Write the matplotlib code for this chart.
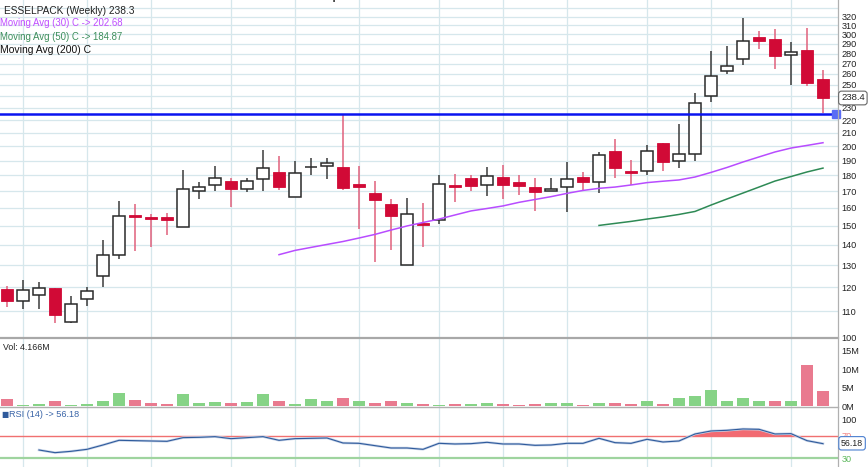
import numpy as np
import matplotlib
matplotlib.use("Agg")
import matplotlib.pyplot as plt
from matplotlib.lines import Line2D

plt.rcParams['font.family'] = ['Liberation Sans', 'DejaVu Sans']

# ---------------- data ----------------
opens = [119.3, 114.3, 116.9, 119.7, 105.9, 114.9, 124.9, 135.1, 156.2, 154.8, 154.8, 149.2, 170.3,
         173.7, 176.4, 171.2, 177.5, 182.5, 166.3, 185.4, 186.3, 185.8, 174.5, 168.9, 162.3, 130.1,
         151.7, 153.0, 173.7, 178.4, 173.7, 179.0, 176.0, 172.4, 170.0, 172.6, 179.0, 176.0, 196.7,
         182.9, 182.9, 202.5, 189.5, 194.6, 239.8, 262.8, 274.5, 297.0, 295.4, 278.2, 283.9, 255.6]
highs = [120.6, 123.3, 122.2, 119.7, 116.3, 120.3, 142.5, 164.1, 162.3, 156.4, 156.9, 183.6, 176.0,
         186.1, 178.2, 178.2, 197.2, 193.4, 189.7, 191.8, 191.6, 225.3, 186.1, 176.4, 165.3, 166.1,
         162.7, 180.1, 181.0, 180.5, 185.6, 187.0, 180.3, 178.2, 178.2, 189.2, 182.5, 196.0, 205.4,
         190.4, 201.0, 202.5, 217.2, 242.7, 282.6, 288.1, 318.1, 303.8, 306.0, 291.6, 307.1, 263.5]
lows = [111.9, 110.8, 111.1, 105.4, 105.5, 112.2, 120.3, 132.9, 136.9, 139.1, 145.1, 149.2, 165.3,
        170.3, 160.4, 169.7, 170.3, 171.0, 166.3, 180.3, 177.7, 170.8, 148.1, 131.7, 137.3, 130.1,
        139.1, 150.8, 163.7, 170.3, 167.3, 165.3, 167.7, 158.3, 170.0, 157.9, 170.8, 169.1, 178.6,
        173.9, 180.3, 183.1, 184.9, 189.9, 234.7, 259.7, 268.3, 284.3, 264.5, 250.1, 249.3, 225.7]
closes = [114.1, 118.9, 119.6, 108.6, 112.9, 118.3, 135.1, 155.3, 154.7, 153.6, 153.0, 171.2, 172.4,
          178.4, 171.2, 176.4, 184.7, 172.4, 181.4, 185.6, 188.1, 172.3, 172.6, 164.9, 155.6, 156.4,
          150.3, 174.3, 172.4, 173.3, 179.9, 174.1, 173.5, 169.5, 171.4, 177.5, 176.0, 194.1, 184.9,
          181.6, 196.7, 189.2, 194.7, 233.8, 257.8, 267.6, 292.7, 292.7, 277.8, 281.2, 251.6, 238.3]
volume_m = [1.9, 0.27, 0.54, 1.26, 0.27, 0.54, 1.44, 3.42, 1.62, 0.81, 0.54, 3.15, 0.81, 1.08, 0.81,
            1.08, 3.15, 1.26, 0.54, 1.9, 1.26, 2.16, 1.35, 0.81, 1.26, 0.81, 0.54, 0.27, 0.54, 0.54,
            0.81, 0.54, 0.27, 0.54, 0.81, 0.81, 0.27, 0.81, 0.81, 0.54, 1.26, 0.54, 2.07, 2.7, 4.3,
            1.35, 2.07, 1.26, 1.35, 1.26, 11.2, 4.166]
ma30_start = 17
ma30 = [135.1, 137.2, 138.7, 140.2, 141.7, 143.5, 145.4, 147.7, 149.9, 151.8, 153.7, 156.0, 158.3,
        159.7, 161.2, 163.3, 165.0, 166.7, 168.7, 170.5, 171.8, 172.6, 173.9, 175.4, 176.3, 177.1,
        179.0, 182.0, 185.3, 189.0, 192.5, 196.0, 198.8, 200.7, 202.68]
ma50_start = 37
ma50 = [150.2, 151.3, 152.4, 153.7, 154.9, 156.3, 158.0, 161.7, 165.3, 168.9, 172.6, 176.4, 179.3,
        182.3, 184.87]
rsi_start = 2
rsi = [44.8, 40.0, 42.4, 46.0, 53.8, 62.2, 61.6, 61.0, 60.4, 67.0, 67.6, 68.8, 65.2, 67.0, 68.8,
       62.2, 65.2, 65.8, 66.4, 57.4, 56.8, 52.6, 48.4, 48.4, 46.0, 56.8, 55.6, 56.2, 58.6, 55.6,
       55.6, 53.2, 53.8, 56.8, 56.8, 65.8, 58.0, 56.8, 64.0, 59.2, 61.0, 73.6, 79.0, 80.2, 82.6,
       82.0, 73.6, 74.2, 61.6, 56.18]
support_level = 225.0
price_ticks = [100, 110, 120, 130, 140, 150, 160, 170, 180, 190, 200, 210, 220, 230,
               250, 260, 270, 280, 290, 300, 310, 320]
vol_ticks = [0, 5, 10, 15]
vol_tick_labels = ["0M", "5M", "10M", "15M"]
month_idx = [1, 5, 9, 14, 18, 22, 27, 31, 35, 40, 44, 49]

# ---------------- layout ----------------
W, H = 868, 467
fig = plt.figure(figsize=(W / 100, H / 100), dpi=100)
fig.patch.set_facecolor("white")

def ax_px(x0, y0, x1, y1):
    return fig.add_axes([x0 / W, 1 - y1 / H, (x1 - x0) / W, (y1 - y0) / H])

RIGHT = 838
P_BOT, V_BOT = 337.7, 407.3
axp = ax_px(0, 0, RIGHT, P_BOT)
axv = ax_px(0, P_BOT, RIGHT, V_BOT)
axr = ax_px(0, V_BOT, RIGHT, H)

n = len(closes)
x = np.arange(n)
xlim = (-7 / 16, (RIGHT - 7) / 16)
GRID = "#d6e7ec"

for ax in (axp, axv, axr):
    ax.set_xlim(*xlim)
    ax.set_xticks([])
    for s in ax.spines.values():
        s.set_visible(False)
    for m in month_idx:
        ax.axvline(m, color=GRID, lw=0.9, zorder=0)
    ax.yaxis.tick_right()
    ax.tick_params(axis="y", length=0, pad=2.5, labelsize=6.6, labelcolor="#222222")

# ---------- price panel ----------
axp.set_yscale("log")
axp.set_ylim(100, 100 * np.exp(P_BOT / 276))
axp.yaxis.set_minor_locator(matplotlib.ticker.NullLocator())
axp.set_yticks(price_ticks)
axp.set_yticklabels([str(t) for t in price_ticks])
for t in range(100, 340, 10):
    axp.axhline(t, color=GRID, lw=0.9, zorder=0)

o = np.array(opens); c = np.array(closes); hi = np.array(highs); lo = np.array(lows)
up = c >= o
RED = "#d10a36"
bw = 0.70
for i in range(n):
    wick_col = "#3a3a3a" if up[i] else "#e0607c"
    axp.vlines(x[i], lo[i], hi[i], color=wick_col, lw=1.1, zorder=2)
    bot = min(o[i], c[i]); top = max(o[i], c[i])
    if top - bot < 0.4:
        top = bot + 0.4
    if up[i]:
        axp.bar(x[i], top - bot, bottom=bot, width=bw, facecolor="white",
                edgecolor="#2a2a2a", lw=1.1, zorder=3)
    else:
        axp.bar(x[i], top - bot, bottom=bot, width=bw, facecolor=RED,
                edgecolor=RED, lw=0.6, zorder=3)

axp.plot(np.arange(ma30_start, ma30_start + len(ma30)), ma30, color="#b84cff", lw=1.1, zorder=4)
axp.plot(np.arange(ma50_start, ma50_start + len(ma50)), ma50, color="#2e8a55", lw=1.1, zorder=4)

axp.axhline(support_level, color="#0a14f0", lw=1.8, zorder=5)
axp.plot([xlim[1] - 0.1], [support_level], marker="s", ms=5.5, color="#5a6cf5",
         clip_on=False, zorder=6)

# legends
fig.text(4 / W, 1 - 10.5 / H, "ESSELPACK (Weekly) 238.3", fontsize=7.3, color="#222222",
         va="center", ha="left")
fig.text(0, 1 - 23.5 / H, "Moving Avg (30) C -> 202.68", fontsize=6.9, color="#c04cff",
         va="center", ha="left")
fig.text(0, 1 - 36.5 / H, "Moving Avg (50) C -> 184.87", fontsize=6.9, color="#3d8f5c",
         va="center", ha="left")
fig.text(0, 1 - 50 / H, "Moving Avg (200) C", fontsize=7.5, color="#111111",
         va="center", ha="left")

# last price box
fig.text(841 / W, 1 - 98 / H, "238.4", fontsize=6.8, color="#222222", va="center", ha="left",
         bbox=dict(boxstyle="round,pad=0.25,rounding_size=0.3", fc="white", ec="#666666", lw=0.8))

# header (clipped at top, as in the reference)
fig.text(255 / W, 1 + 3 / H, "Date: 09-05     Open: 255.60     Hi: 263.50     Lo: 225.70     Cl: 238.30     Vol: 4.166M",
         fontsize=7.5, weight="bold", color="#111111", va="center", ha="left")

# ---------- volume panel ----------
vol_up = [c[0] >= o[0]] + [c[i] >= c[i - 1] for i in range(1, n)]
vcols = ["#86d386" if u else "#e97a8f" for u in vol_up]
axv.bar(x, volume_m, width=0.74, color=vcols, zorder=2)
axv.set_ylim(-0.35, (406 - P_BOT) / 18.5 * 5)
axv.set_yticks(vol_ticks)
axv.set_yticklabels(vol_tick_labels)
fig.text(3 / W, 1 - 347.5 / H, "Vol: 4.166M", fontsize=6.3, color="#222222", va="center", ha="left")

# ---------- RSI panel ----------
rx = np.arange(rsi_start, rsi_start + len(rsi))
ra = np.array(rsi)
axr.set_ylim(100 - (H - 419.3) / 0.556, 100 + (419.3 - V_BOT) / 0.556)
axr.axhline(70, color="#f07070", lw=1.0, zorder=1)
axr.axhline(30, color="#9fd49f", lw=1.6, zorder=1)
axr.fill_between(rx, ra, 70, where=ra > 70, interpolate=True, color="#f26a72", lw=0, zorder=2)
axr.plot(rx, ra, color="#c8d4e8", lw=1.8, zorder=3)
axr.plot(rx, ra, color="#2f5b9c", lw=0.8, zorder=4)
axr.set_yticks([100, 70, 30])
axr.set_yticklabels(["100", "70", "30"])
tl = axr.get_yticklabels()
tl[1].set_color("#f08080")
tl[2].set_color("#5cb85c")
fig.text(1 / W, 1 - 414.5 / H, "\u25a0", fontsize=5.5, color="#2f5b9c", va="center", ha="left",
         family=["DejaVu Sans"])
fig.text(9 / W, 1 - 414.5 / H, "RSI (14) -> 56.18", fontsize=6.6, color="#3a65a8",
         va="center", ha="left")
fig.text(841 / W, 1 - 443.3 / H, "56.18", fontsize=6.3, color="#222222", va="center", ha="left",
         bbox=dict(boxstyle="round,pad=0.25,rounding_size=0.3", fc="white", ec="#4a7fd0", lw=0.8))

# separators and right border
fig.add_artist(Line2D([0, RIGHT / W], [1 - P_BOT / H] * 2, color="#a8a8a8", lw=1.6))
fig.add_artist(Line2D([0, RIGHT / W], [1 - V_BOT / H] * 2, color="#b0b0b0", lw=1.0))
fig.add_artist(Line2D([RIGHT / W] * 2, [0, 1], color="#b0b0b0", lw=0.9))

fig.savefig("out.png", dpi=100, facecolor="white")
